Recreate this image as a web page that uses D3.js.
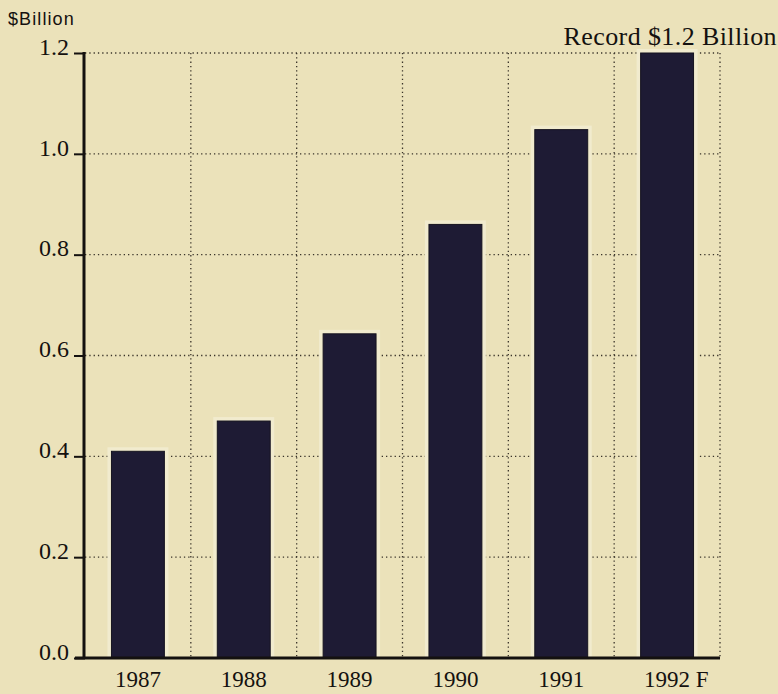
<!DOCTYPE html>
<html>
<head>
<meta charset="utf-8">
<script src="https://cdn.jsdelivr.net/npm/d3@7"></script>
<style>
  html, body { margin: 0; padding: 0; background: #ebe2ba; }
  svg { display: block; }
</style>
</head>
<body>
<svg id="chart" width="778" height="694"></svg>
<script>
// Annual totals, $ billion (1992 is a forecast)
const years = ["1987", "1988", "1989", "1990", "1991", "1992"];
const yearSuffix = ["", "", "", "", "", " F"];
const values = [0.41, 0.47, 0.643, 0.86, 1.048, 1.2];
const yTicks = [0.0, 0.2, 0.4, 0.6, 0.8, 1.0, 1.2];

(function drawChart() {
  const svg = d3.select("#chart");
  const W = 778, H = 694;
  const mLeft = 85, mRight = 720, mTop = 53, mBottom = 658;

  svg.append("rect").attr("width", W).attr("height", H).attr("fill", "#ebe2ba");

  const x = d3.scaleBand().domain(years).range([mLeft, mRight]).paddingInner(0.5).paddingOuter(0.25);
  const xGrid = d3.scaleBand().domain(years).range([mLeft, mRight]);
  const y = d3.scaleLinear().domain([0, 1.2]).range([mBottom, mTop]);

  const serif = "'Liberation Serif', 'DejaVu Serif', serif";
  const sans = "'Liberation Sans', Arial, sans-serif";
  const ink = "#14110f";

  // dotted horizontal grid
  svg.append("g").selectAll("line").data(yTicks.slice(1)).join("line")
    .attr("x1", mLeft).attr("x2", mRight)
    .attr("y1", d => y(d)).attr("y2", d => y(d))
    .attr("stroke", "#3a342a").attr("stroke-width", 1.3)
    .attr("stroke-dasharray", "1.3,3");

  // dotted vertical grid at category boundaries
  svg.append("g").selectAll("line").data(years).join("line")
    .attr("x1", d => xGrid(d) + xGrid.bandwidth()).attr("x2", d => xGrid(d) + xGrid.bandwidth())
    .attr("y1", mTop).attr("y2", mBottom)
    .attr("stroke", "#3a342a").attr("stroke-width", 1.3)
    .attr("stroke-dasharray", "1.3,3");

  // pale halo behind the bars
  svg.append("g").selectAll("rect").data(values).join("rect")
    .attr("x", (d, i) => x(years[i]) - 4)
    .attr("width", x.bandwidth() + 8)
    .attr("y", d => y(d) - 4)
    .attr("height", d => mBottom - y(d) + 4)
    .attr("fill", "#f1ebce");

  // bars
  svg.append("g").selectAll("rect").data(values).join("rect")
    .attr("x", (d, i) => x(years[i]))
    .attr("width", x.bandwidth())
    .attr("y", d => y(d))
    .attr("height", d => mBottom - y(d))
    .attr("fill", "#1e1b34")
    .attr("stroke", "#15131f").attr("stroke-width", 1);

  // y axis
  const yAxis = d3.axisLeft(y).tickValues(yTicks).tickFormat(d3.format(".1f")).tickSize(11).tickPadding(5);
  const gy = svg.append("g").attr("transform", `translate(${mLeft},0)`).call(yAxis);
  gy.select(".domain").remove();
  gy.selectAll(".tick line").attr("stroke", ink).attr("stroke-width", 2);
  gy.selectAll(".tick text").attr("font-family", serif).attr("font-size", 24).attr("fill", ink)
    .attr("dy", "0.05em");
  svg.append("line").attr("x1", mLeft - 1).attr("x2", mLeft - 1).attr("y1", mTop - 1).attr("y2", mBottom)
    .attr("stroke", ink).attr("stroke-width", 3);

  // baseline
  svg.append("line").attr("x1", mLeft - 10).attr("x2", mRight).attr("y1", mBottom).attr("y2", mBottom)
    .attr("stroke", ink).attr("stroke-width", 3);

  // x labels: the year is centred under its bar, suffix trails after it
  const xl = svg.append("g");
  years.forEach((yr, i) => {
    const cx = x(yr) + x.bandwidth() / 2;
    const t = xl.append("text").attr("y", 687)
      .attr("font-family", serif).attr("font-size", 23).attr("fill", ink)
      .text(yr + yearSuffix[i]);
    const yrW = t.node().getSubStringLength(0, yr.length);
    t.attr("x", cx - yrW / 2);
  });

  // titles
  svg.append("text").attr("x", 8).attr("y", 25)
    .attr("font-family", sans).attr("font-size", 18).attr("letter-spacing", 1.1).attr("fill", ink)
    .text("$Billion");
  svg.append("text").attr("x", 777).attr("y", 45).attr("text-anchor", "end")
    .attr("font-family", serif).attr("font-size", 26).attr("letter-spacing", 0.4).attr("fill", ink)
    .text("Record $1.2 Billion");
})();
</script>
</body>
</html>
